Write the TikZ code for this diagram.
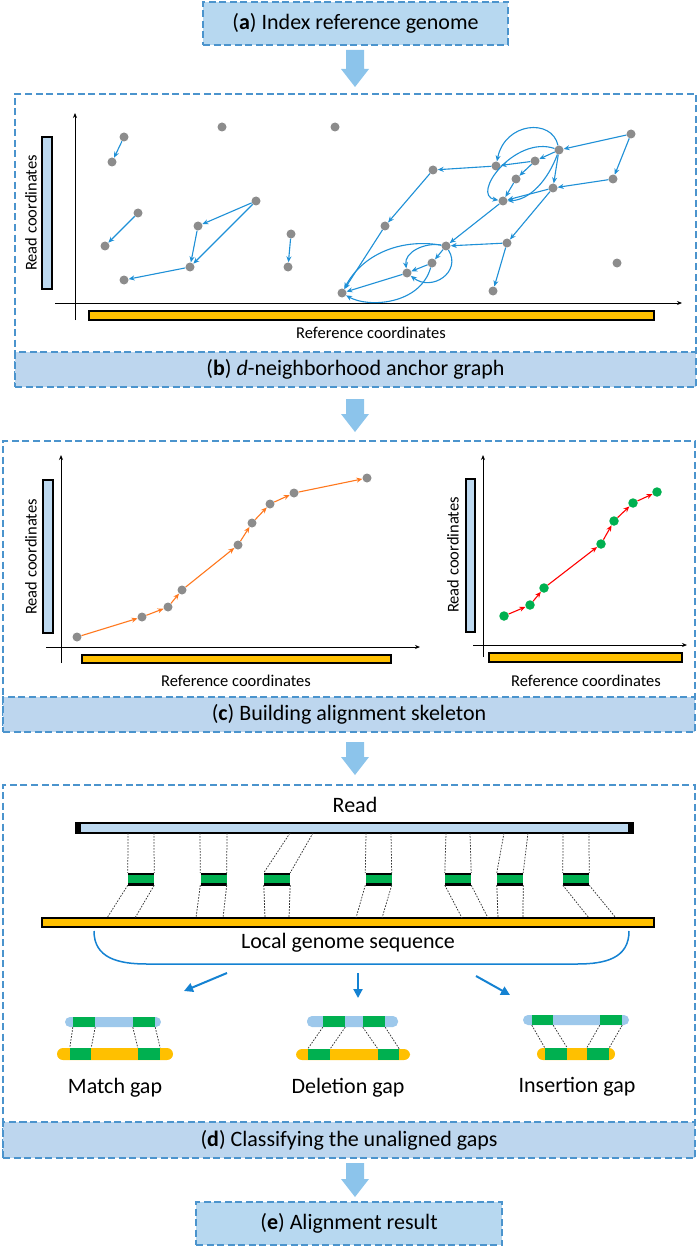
\documentclass[tikz,border=0pt]{standalone}
\usepackage{fontspec}
\setmainfont{Carlito}
\usetikzlibrary{arrows.meta,calc}
\definecolor{topfill}{RGB}{183,216,240}
\definecolor{bandfill}{RGB}{189,214,238}
\definecolor{dashblue}{RGB}{75,148,205}
\definecolor{bigarrowc}{RGB}{140,196,235}
\definecolor{edgeblue}{RGB}{30,144,215}
\definecolor{dotgray}{RGB}{140,140,140}
\definecolor{ygold}{RGB}{255,192,0}
\definecolor{grn}{RGB}{0,176,80}
\definecolor{readfill}{RGB}{189,217,240}
\definecolor{gapblue}{RGB}{157,200,235}
\definecolor{orng}{RGB}{255,120,30}
\definecolor{braceblue}{RGB}{20,130,210}
\newcommand\bigfont{\fontsize{22}{26}\selectfont}
\newcommand\axfont{\fontsize{16.5}{19}\selectfont}
\newcommand\bigarr[3]{\fill[bigarrowc] (#1-9,#2) -- (#1+9,#2) -- (#1+9,#3-18) -- (#1+14,#3-18) -- (#1,#3) -- (#1-14,#3-18) -- (#1-9,#3-18) -- cycle;}
\tikzset{
  dashbox/.style={draw=dashblue, line width=1.4pt, dash pattern=on 7pt off 3.5pt, inner sep=0pt},
  topbox/.style={dashbox, fill=topfill, font=\bigfont, minimum height=43pt},
  panel/.style={dashbox, fill=white},
  band/.style={dashbox, fill=bandfill, font=\bigfont, minimum height=36pt},
  dot/.style={circle, fill=dotgray, inner sep=0pt, minimum size=9pt},
  gdot/.style={circle, fill=grn, inner sep=0pt, minimum size=9.5pt},
  edge/.style={draw=edgeblue, line width=1.1pt, -{Stealth[length=6pt,width=5pt]}},
  oedge/.style={draw=orng, line width=1.1pt, -{Stealth[length=6pt,width=5pt]}},
  redge/.style={draw=red, line width=1.1pt, -{Stealth[length=6pt,width=5pt]}},
  axis/.style={draw=black, line width=1pt, -{Stealth[length=5pt,width=4pt]}},
  rbar/.style={draw=black, line width=1.3pt, fill=readfill, inner sep=0pt},
  ybar/.style={draw=black, line width=1.3pt, fill=ygold, inner sep=0pt},
  axlabel/.style={font=\axfont, inner sep=0pt},
  gblk/.style={fill=grn, inner sep=0pt, minimum width=26pt, minimum height=12pt,
    path picture={\draw[line width=3.2pt] (path picture bounding box.north west) -- (path picture bounding box.north east) (path picture bounding box.south west) -- (path picture bounding box.south east);}},
  dline/.style={draw=black!80, line width=0.75pt, dash pattern=on 1.6pt off 1.4pt},
  gsq/.style={fill=grn, inner sep=0pt},
  bluearr/.style={draw=braceblue, line width=2pt, -{Triangle[length=9pt,width=9pt]}},
}
\begin{document}
\begin{tikzpicture}[x=1pt,y=-1pt]
\useasboundingbox (0,0) rectangle (699,1249);
% ---------- top box a
\node[topbox, minimum width=305pt] (boxa) at (355.5,23.5) {(\textbf{a}) Index reference genome};
\bigarr{355}{50}{87}
% ---------- panel b
\node[panel, minimum width=681pt, minimum height=293pt] (pb) at (355.5,240.5) {};
\node[band, minimum width=681pt, minimum height=35pt] (bandb) at (355.5,369.5) {(\textbf{b}) \textit{d}-neighborhood anchor graph};
\coordinate (byo) at (75,320); \coordinate (byt) at (75,113);
\coordinate (bxo) at (55,303); \coordinate (bxt) at (682,303);
\draw[axis] (byo) -- (byt);
\draw[axis] (bxo) -- (bxt);
\node[rbar, minimum width=10pt, minimum height=152pt] (breadbar) at (47,213) {};
\node[axlabel, rotate=90] (breadlab) at (31,213) {Read coordinates};
\node[ybar, minimum width=565pt, minimum height=9pt] (brefbar) at (371.5,315.5) {};
\node[axlabel] (breflab) at (371,333) {Reference coordinates};
% dots left
\node[dot] (d1) at (124,137) {};
\node[dot] (d2) at (112,162) {};
\node[dot] (d3) at (222,127) {};
\node[dot] (d4) at (335,127) {};
\node[dot] (d5) at (138,213) {};
\node[dot] (d6) at (105,246) {};
\node[dot] (d7) at (256,201) {};
\node[dot] (d8) at (198,226) {};
\node[dot] (d9) at (190,267) {};
\node[dot] (d10) at (124,280) {};
\node[dot] (d11) at (291,234) {};
\node[dot] (d12) at (288,267) {};
\node[dot] (hub) at (342,293) {};
% dots right
\node[dot] (e1) at (631,134) {};
\node[dot] (e2) at (559,150) {};
\node[dot] (e3) at (496,166) {};
\node[dot] (e4) at (535,161) {};
\node[dot] (e5) at (516,179) {};
\node[dot] (e6) at (433,170) {};
\node[dot] (e7) at (613,179) {};
\node[dot] (e8) at (553,188) {};
\node[dot] (e9) at (503,201) {};
\node[dot] (e10) at (385,226) {};
\node[dot] (e11) at (507,243) {};
\node[dot] (e12) at (446,246) {};
\node[dot] (e13) at (432,263) {};
\node[dot] (e14) at (407,273) {};
\node[dot] (e15) at (617,263) {};
\node[dot] (e16) at (493,291) {};
% edges
\draw[edge] (d1) -- (d2);
\draw[edge] (d5) -- (d6);
\draw[edge] (d7) -- (d8);
\draw[edge] (d7) -- (d9);
\draw[edge] (d8) -- (d9);
\draw[edge] (d9) -- (d10);
\draw[edge] (d11) -- (d12);
\draw[edge] (e1) -- (e2);
\draw[edge] (e1) -- (e7);
\draw[edge] (e7) -- (e8);
\draw[edge] (e2) -- (e4);
\draw[edge] (e4) -- (e3);
\draw[edge] (e3) -- (e6);
\draw[edge] (e6) -- (e10);
\draw[edge] (e10) -- (hub);
\draw[edge] (e2) .. controls (552,118) and (505,122) .. (e3);
\draw[edge] (e2) .. controls (515,135) and (470,195) .. (e9);
\draw[edge] (e2) .. controls (548,180) and (530,200) .. (e9);
\draw[edge] (e4) -- (e5);
\draw[edge] (e5) -- (e9);
\draw[edge] (e2) -- (e8);
\draw[edge] (e8) -- (e9);
\draw[edge] (e8) -- (e11);
\draw[edge] (e9) -- (e12);
\draw[edge] (e11) -- (e12);
\draw[edge] (e11) -- (e16);
\draw[edge] (e12) -- (e13);
\draw[edge] (e13) -- (e14);
\draw[edge] (e14) -- (hub);
\draw[edge] (e12) .. controls (400,238) and (362,255) .. (hub);
\draw[edge] (e12) .. controls (425,242) and (404,252) .. (e14);
\draw[edge] (e12) .. controls (462,272) and (432,292) .. (e14);
\draw[edge] (e13) .. controls (420,305) and (368,308) .. (hub);
\bigarr{355}{399}{432}
% ---------- panel c
\node[panel, minimum width=692pt, minimum height=291pt] (pc) at (349,586.5) {};
\node[band, minimum width=692pt, minimum height=35pt] (bandc) at (349,714.5) {(\textbf{c}) Building alignment skeleton};
\coordinate (cyo) at (61,663); \coordinate (cyt) at (61,455);
\coordinate (cxo) at (46,647); \coordinate (cxt) at (420,647);
\draw[axis] (cyo) -- (cyt);
\draw[axis] (cxo) -- (cxt);
\node[rbar, minimum width=10pt, minimum height=153pt] (creadbar) at (48,556.5) {};
\node[axlabel, rotate=90] (creadlab) at (31,557) {Read coordinates};
\node[ybar, minimum width=309pt, minimum height=8pt] (crefbar) at (236.5,659) {};
\node[axlabel] (creflab) at (236,681) {Reference coordinates};
\node[dot] (c1) at (77,637) {};
\node[dot] (c2) at (142,617) {};
\node[dot] (c3) at (168,607) {};
\node[dot] (c4) at (182,590) {};
\node[dot] (c5) at (238,545) {};
\node[dot] (c6) at (252,523) {};
\node[dot] (c7) at (270,504) {};
\node[dot] (c8) at (294,493) {};
\node[dot] (c9) at (367,478) {};
\foreach \a/\b in {c1/c2,c2/c3,c3/c4,c4/c5,c5/c6,c6/c7,c7/c8,c8/c9} \draw[oedge] (\a) -- (\b);
\coordinate (ryo) at (483,657); \coordinate (ryt) at (483,455);
\coordinate (rxo) at (473,645); \coordinate (rxt) at (687,645);
\draw[axis] (ryo) -- (ryt);
\draw[axis] (rxo) -- (rxt);
\node[rbar, minimum width=9pt, minimum height=153pt] (rreadbar) at (470.5,555.5) {};
\node[axlabel, rotate=90] (rreadlab) at (453,555) {Read coordinates};
\node[ybar, minimum width=193pt, minimum height=9pt] (rrefbar) at (585.5,657.5) {};
\node[axlabel] (rreflab) at (586,681) {Reference coordinates};
\node[gdot] (g1) at (504,616) {};
\node[gdot] (g2) at (530,605) {};
\node[gdot] (g3) at (544,588) {};
\node[gdot] (g4) at (601,544) {};
\node[gdot] (g5) at (614,521) {};
\node[gdot] (g6) at (633,503) {};
\node[gdot] (g7) at (657,492) {};
\foreach \a/\b in {g1/g2,g2/g3,g3/g4,g4/g5,g5/g6,g6/g7} \draw[redge] (\a) -- (\b);
\bigarr{355}{742}{775}
% ---------- panel d
\node[panel, minimum width=692pt, minimum height=373pt] (pd) at (349,971.5) {};
\node[band, minimum width=692pt, minimum height=36pt] (bandd) at (349,1140) {(\textbf{d}) Classifying the unaligned gaps};
\node[font=\bigfont, inner sep=0pt] (readlab) at (355,805) {Read};
\node[rbar, line width=1.6pt, minimum width=557pt, minimum height=10pt] (readbar) at (354.5,828) {};
\fill (readbar.north west) rectangle ($(readbar.south west)+(6,0)$);
\fill (readbar.north east) rectangle ($(readbar.south east)+(-6,0)$);
\node[ybar, minimum width=612pt, minimum height=9pt] (genbar) at (348,922.5) {};
\node[font=\bigfont, inner sep=0pt] (genlab) at (348,943) {Local genome sequence};
\foreach \n/\cx/\ra/\rb/\ga/\gb in {1/141/128/154/107/135, 2/213.5/200/227/196/223, 3/277/290/313/265/289, 4/378.5/366/391/356/382, 5/458/446/470/462/488, 6/510/504/528/498/523, 7/576/563/589/589/616}{
  \node[gblk] (blk\n) at (\cx,879) {};
  \coordinate (ra\n) at (\ra,833); \coordinate (rb\n) at (\rb,833);
  \coordinate (ga\n) at (\ga,918); \coordinate (gb\n) at (\gb,918);
  \draw[dline] (ra\n) -- (blk\n.north west);
  \draw[dline] (rb\n) -- (blk\n.north east);
  \draw[dline] (blk\n.south west) -- (ga\n);
  \draw[dline] (blk\n.south east) -- (gb\n);
}
\coordinate (brl) at (94,931); \coordinate (brr) at (629,931);
\draw[braceblue, line width=1.5pt] (brl) .. controls (94,958) and (118,964) .. (147,964) -- (577,964) .. controls (606,964) and (629,958) .. (brr);
\coordinate (a1s) at (227,973); \coordinate (a1e) at (184,991);
\coordinate (a2s) at (358,973); \coordinate (a2e) at (358,998);
\coordinate (a3s) at (476,976); \coordinate (a3e) at (510,995);
\draw[bluearr] (a1s) -- (a1e);
\draw[bluearr] (a2s) -- (a2e);
\draw[bluearr] (a3s) -- (a3e);
% gap diagrams
% match
\node[fill=gapblue, rounded corners=5pt, inner sep=0pt, minimum width=96pt, minimum height=10pt] (mtop) at (113,1022) {};
\node[gsq, minimum width=22pt, minimum height=10pt] (mt1) at (84,1022) {};
\node[gsq, minimum width=22pt, minimum height=10pt] (mt2) at (144,1022) {};
\node[fill=ygold, rounded corners=6pt, inner sep=0pt, minimum width=116pt, minimum height=12pt] (mbot) at (115,1054) {};
\node[gsq, minimum width=21pt, minimum height=12pt] (mb1) at (80.5,1054) {};
\node[gsq, minimum width=22pt, minimum height=12pt] (mb2) at (149,1054) {};
\draw[dline] (mt1.south west) -- (mb1.north west);
\draw[dline] (mt1.south east) -- (mb1.north east);
\draw[dline] (mt2.south west) -- (mb2.north west);
\draw[dline] (mt2.south east) -- (mb2.north east);
\node[font=\bigfont, inner sep=0pt] (mlab) at (115,1088) {Match gap};
% deletion
\node[fill=gapblue, rounded corners=5pt, inner sep=0pt, minimum width=91pt, minimum height=11pt] (dtop) at (352.5,1021.5) {};
\node[gsq, minimum width=22pt, minimum height=11pt] (dt1) at (334,1021.5) {};
\node[gsq, minimum width=22pt, minimum height=11pt] (dt2) at (374,1021.5) {};
\node[fill=ygold, rounded corners=6pt, inner sep=0pt, minimum width=114pt, minimum height=11pt] (dbot) at (353,1054.5) {};
\node[gsq, minimum width=22pt, minimum height=11pt] (db1) at (319,1054.5) {};
\node[gsq, minimum width=21pt, minimum height=11pt] (db2) at (388.5,1054.5) {};
\draw[dline] (dt1.south west) -- (db1.north west);
\draw[dline] (dt1.south east) -- (db1.north east);
\draw[dline] (dt2.south west) -- (db2.north west);
\draw[dline] (dt2.south east) -- (db2.north east);
\node[font=\bigfont, inner sep=0pt] (dlab) at (348,1088) {Deletion gap};
% insertion
\node[fill=gapblue, rounded corners=5pt, inner sep=0pt, minimum width=106pt, minimum height=10pt] (itop) at (576,1020) {};
\node[gsq, minimum width=21pt, minimum height=10pt] (it1) at (542.5,1020) {};
\node[gsq, minimum width=22pt, minimum height=10pt] (it2) at (611,1020) {};
\node[fill=ygold, rounded corners=6pt, inner sep=0pt, minimum width=78pt, minimum height=12pt] (ibot) at (576,1054) {};
\node[gsq, minimum width=22pt, minimum height=12pt] (ib1) at (556,1054) {};
\node[gsq, minimum width=22pt, minimum height=12pt] (ib2) at (598,1054) {};
\draw[dline] (it1.south west) -- (ib1.north west);
\draw[dline] (it1.south east) -- (ib1.north east);
\draw[dline] (it2.south west) -- (ib2.north west);
\draw[dline] (it2.south east) -- (ib2.north east);
\node[font=\bigfont, inner sep=0pt] (ilab) at (577,1087) {Insertion gap};
\bigarr{355}{1163}{1197}
% ---------- box e
\node[topbox, minimum width=306pt] (boxe) at (349,1223.5) {(\textbf{e}) Alignment result};
\end{tikzpicture}
\end{document}
